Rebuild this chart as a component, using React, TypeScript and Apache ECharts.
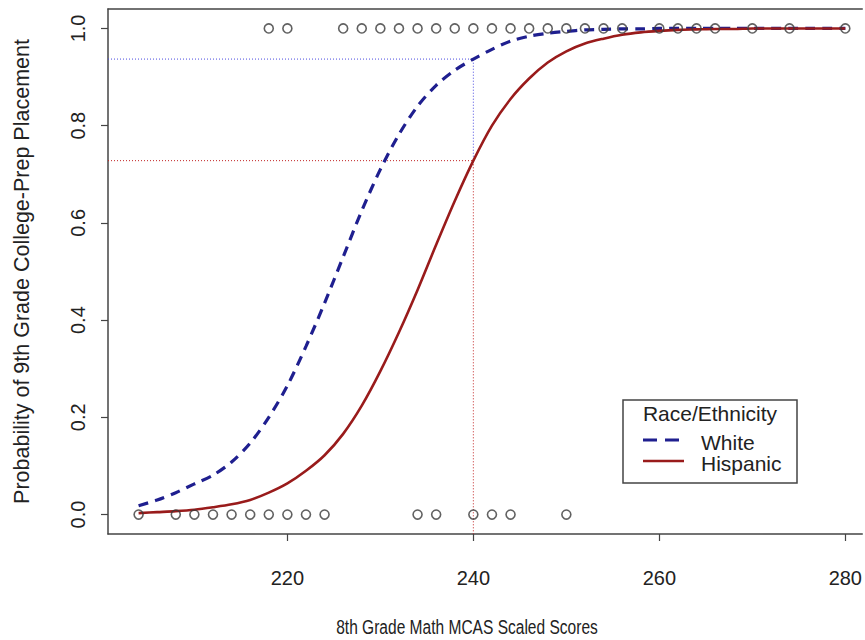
import React, { useEffect, useRef } from "react";
import * as echarts from "echarts";

// Observed outcomes (1 = college-prep placement, 0 = not)
const placedScores = [218, 220, 226, 228, 230, 232, 234, 236, 238, 240, 242, 244, 246, 248, 250, 252, 254, 256, 260, 262, 264, 266, 270, 274, 280];
const notPlacedScores = [204, 208, 210, 212, 214, 216, 218, 220, 222, 224, 234, 236, 240, 242, 244, 250];

// Fitted probability curves
const curveScores = [204, 206, 208, 210, 212, 214, 216, 218, 220, 222, 224, 226, 228, 230, 232, 234, 236, 238, 240, 242, 244, 246, 248, 250, 252, 254, 256, 258, 260, 262, 264, 266, 268, 270, 272, 274, 276, 278, 280];
const whiteProb = [0.018, 0.03, 0.045, 0.063, 0.081, 0.108, 0.147, 0.2, 0.265, 0.346, 0.435, 0.53, 0.625, 0.71, 0.782, 0.84, 0.883, 0.914, 0.937, 0.957, 0.974, 0.984, 0.99, 0.994, 0.997, 0.998, 0.999, 0.999, 1, 1, 1, 1, 1, 1, 1, 1, 1, 1, 1];
const hispanicProb = [0.003, 0.005, 0.007, 0.01, 0.015, 0.021, 0.03, 0.045, 0.064, 0.09, 0.122, 0.166, 0.224, 0.295, 0.375, 0.462, 0.555, 0.645, 0.728, 0.8, 0.855, 0.897, 0.93, 0.953, 0.969, 0.979, 0.987, 0.992, 0.995, 0.997, 0.998, 0.999, 0.999, 1, 1, 1, 1, 1, 1];

const xTicks = [220, 240, 260, 280];
const yTicks = [0, 0.2, 0.4, 0.6, 0.8, 1.0];
const refScore = 240;
const refWhite = whiteProb[curveScores.indexOf(refScore)];
const refHispanic = hispanicProb[curveScores.indexOf(refScore)];

const X_MIN = 200.71;
const X_MAX = 281.82;
const Y_MIN = -0.04;
const Y_MAX = 1.04;

const FONT = "Liberation Sans, Arial, sans-serif";
const NAVY = "#1f1f8f";
const DARKRED = "#991b1b";
const AXIS = "#444";
const TEXT = "#222";

export default function App() {
  const ref = useRef<HTMLDivElement>(null);
  useEffect(() => {
    const chart = echarts.init(ref.current!, null, { renderer: "svg" });
    const pair = (xs: number[], ys: number[]) => xs.map((x, i) => [x, ys[i]]);
    const dotted = (data: number[][], color: string) => ({
      type: "line",
      data,
      symbol: "none",
      silent: true,
      lineStyle: { color, width: 1, type: [1, 2] },
      z: 1,
    });
    const circles = (xs: number[], y: number) => ({
      type: "scatter",
      data: xs.map((x) => [x, y]),
      symbol: "circle",
      symbolSize: 9,
      itemStyle: { color: "rgba(255,255,255,0)", borderColor: "#3a3a3a", borderWidth: 1.6 },
      z: 4,
    });
    chart.setOption({
      animation: false,
      grid: {
        left: 108,
        top: 9,
        right: 0,
        bottom: 106,
        show: false,
      },
      xAxis: [
        {
          type: "value",
          min: X_MIN,
          max: X_MAX,
          splitLine: { show: false },
          axisLine: { show: true, onZero: false, lineStyle: { color: AXIS, width: 1.5 } },
          axisTick: { show: true, inside: false, length: 7, customValues: xTicks, lineStyle: { color: AXIS, width: 1.2 } },
          axisLabel: { customValues: xTicks, margin: 34, color: TEXT, fontFamily: FONT, fontSize: 20 },
        },
        {
          type: "value",
          position: "top",
          min: X_MIN,
          max: X_MAX,
          splitLine: { show: false },
          axisLine: { show: true, onZero: false, lineStyle: { color: AXIS, width: 1.5 } },
          axisTick: { show: false },
          axisLabel: { show: false },
        },
      ],
      yAxis: {
        type: "value",
        min: Y_MIN,
        max: Y_MAX,
        splitLine: { show: false },
        axisLine: { show: true, onZero: false, lineStyle: { color: AXIS, width: 1.5 } },
        axisTick: { show: true, inside: false, length: 7, customValues: yTicks, lineStyle: { color: AXIS, width: 1.2 } },
        axisLabel: {
          customValues: yTicks,
          rotate: 90,
          margin: 20,
          color: TEXT,
          fontFamily: FONT,
          fontSize: 20,
          formatter: (v: number) => v.toFixed(1),
        },
        name: "Probability of 9th Grade College-Prep Placement",
        nameLocation: "middle",
        nameRotate: 90,
        nameGap: 75,
        nameTextStyle: { color: TEXT, fontFamily: FONT, fontSize: 21.5 },
      },
      series: [
        dotted([[X_MIN, refWhite], [refScore, refWhite], [refScore, refHispanic]], "#4a4ae0"),
        dotted([[X_MIN, refHispanic], [refScore, refHispanic], [refScore, Y_MIN]], "#c02020"),
        {
          name: "White",
          type: "line",
          data: pair(curveScores, whiteProb),
          symbol: "none",
          smooth: 0.3,
          lineStyle: { color: NAVY, width: 3.2, type: [10, 7] },
          z: 3,
        },
        {
          name: "Hispanic",
          type: "line",
          data: pair(curveScores, hispanicProb),
          symbol: "none",
          smooth: 0.3,
          lineStyle: { color: DARKRED, width: 2.6 },
          z: 3,
        },
        circles(placedScores, 1),
        circles(notPlacedScores, 0),
      ],
      graphic: [
        {
          type: "text",
          x: 467,
          y: 627,
          scaleX: 0.74,
          style: { text: "8th Grade Math MCAS Scaled Scores", fill: TEXT, font: `21px ${FONT}`, textAlign: "center", textVerticalAlign: "middle" },
        },
        {
          type: "group",
          x: 623,
          y: 400,
          children: [
            { type: "rect", shape: { x: 0, y: 0, width: 174, height: 83 }, style: { fill: "#fff", stroke: AXIS, lineWidth: 1.5 } },
            { type: "text", x: 87, y: 13, style: { text: "Race/Ethnicity", fill: TEXT, font: `21px ${FONT}`, textAlign: "center", textVerticalAlign: "middle" } },
            { type: "line", shape: { x1: 20, y1: 40, x2: 57, y2: 40 }, style: { stroke: NAVY, lineWidth: 3, lineDash: [14, 8] } },
            { type: "text", x: 78, y: 42, style: { text: "White", fill: TEXT, font: `21px ${FONT}`, textAlign: "left", textVerticalAlign: "middle" } },
            { type: "line", shape: { x1: 20, y1: 61, x2: 61, y2: 61 }, style: { stroke: DARKRED, lineWidth: 2.6 } },
            { type: "text", x: 78, y: 63, style: { text: "Hispanic", fill: TEXT, font: `21px ${FONT}`, textAlign: "left", textVerticalAlign: "middle" } },
          ],
        },
      ],
    });
    return () => chart.dispose();
  }, []);
  return <div ref={ref} style={{ position: "absolute", left: 0, top: 0, width: 865, height: 640 }} />;
}
